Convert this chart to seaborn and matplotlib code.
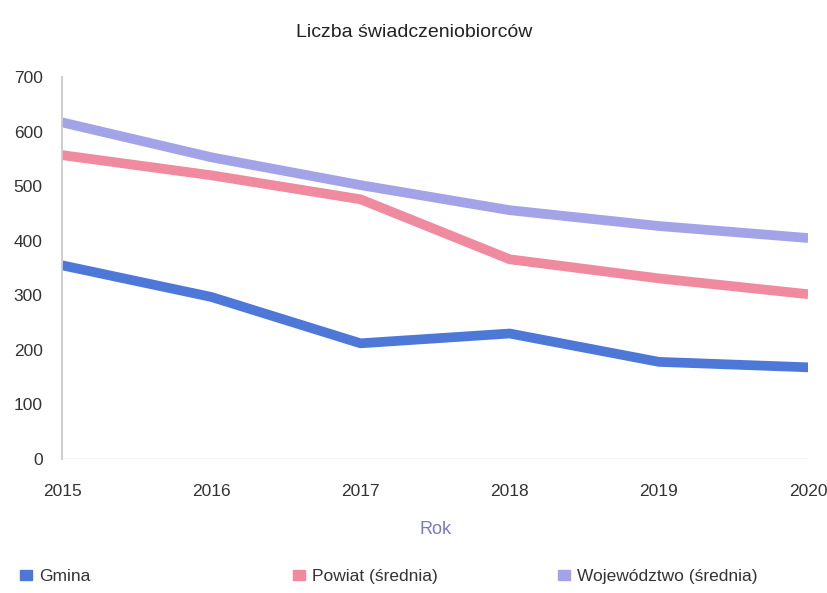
import numpy as np
import pandas as pd
import matplotlib
matplotlib.use('Agg')
import matplotlib.pyplot as plt
import matplotlib.patches as mpatches
import seaborn as sns

# data
years = [2015, 2016, 2017, 2018, 2019, 2020]
gmina = [355, 297, 212, 230, 178, 168]
powiat = [557, 520, 476, 366, 331, 302]
wojewodztwo = [617, 553, 502, 456, 427, 405]
series_names = ["Gmina", "Powiat (średnia)", "Województwo (średnia)"]
colors = ["#4d78d8", "#f08a9e", "#a3a3e8"]

df = pd.DataFrame({
    "Rok": years * 3,
    "value": gmina + powiat + wojewodztwo,
    "series": [n for n in series_names for _ in years],
})

sns.set_theme(style="white")
plt.rcParams['font.family'] = ['Liberation Sans', 'DejaVu Sans']

fig = plt.figure(figsize=(8.28, 5.93), dpi=100)
ax = fig.add_axes([0.075, 0.226, 0.901, 0.644])

sns.lineplot(data=df, x="Rok", y="value", hue="series", palette=colors,
             linewidth=7, ax=ax, legend=False, solid_capstyle='butt')

ax.set_xlim(2015, 2020)
ax.set_ylim(0, 700)
ax.set_yticks(range(0, 701, 100))
ax.set_xticks(years)
ax.tick_params(axis='both', labelsize=12.5, colors='#333333', length=0)
ax.tick_params(axis='y', pad=14)
ax.tick_params(axis='x', pad=18)

for s in ["top", "right", "bottom"]:
    ax.spines[s].set_visible(False)
ax.spines["left"].set_color("#c8c8c8")
ax.axhline(0, color="#c8c8d8", linewidth=1)

ax.set_ylabel("")
ax.set_xlabel("Rok", fontsize=13, color="#7878c8", labelpad=16)
fig.suptitle("Liczba świadczeniobiorców", fontsize=14, color="#222222", y=0.96)

# one legend entry per column, spaced like the reference
legend_x = [0.005, 0.335, 0.655]
for c, n, x in zip(colors, series_names, legend_x):
    leg = fig.legend(handles=[mpatches.Patch(color=c, label=n)], loc="center left",
                     bbox_to_anchor=(x, 0.027), frameon=False, fontsize=12.5,
                     handlelength=0.7, handleheight=0.5, handletextpad=0.4,
                     labelcolor="#333333")

plt.savefig("out.png", dpi=100)
plt.close()
